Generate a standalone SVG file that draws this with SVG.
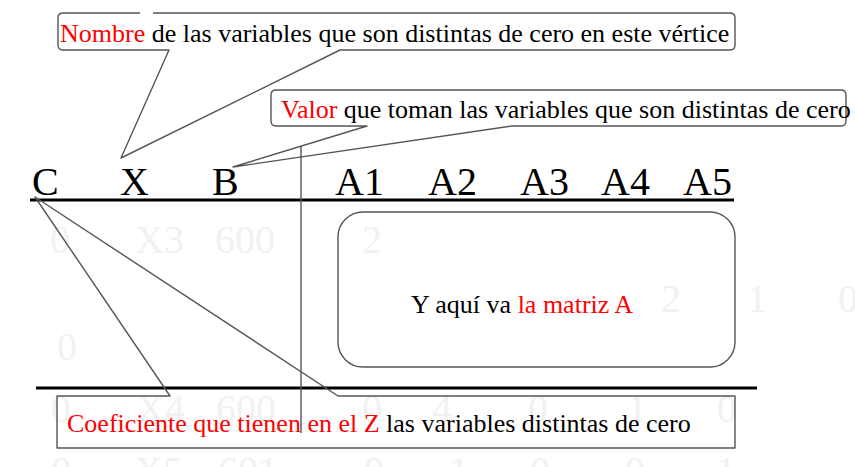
<svg xmlns="http://www.w3.org/2000/svg" width="855" height="467" viewBox="0 0 855 467" font-family="'Liberation Serif', 'Times New Roman', serif">
<style>
  text { font-family: "Liberation Serif", "Times New Roman", serif; }
  .lbl { font-size: 26px; fill: #000; }
  .red { fill: #ff0000; }
  .hdr { font-size: 40px; fill: #000; }
  .ghost { font-size: 40px; fill: #f1f1f1; }
  .callout { fill: none; stroke: #555; stroke-width: 1.4; stroke-linejoin: round; }
  .rule { stroke: #000; stroke-width: 3; }
  .vrule { stroke: #555; stroke-width: 1.4; }
</style>
<rect width="855" height="467" fill="#fff"/>

<g id="ghost-values">
  <text class="ghost" x="50" y="253">0</text>
  <text class="ghost" x="135" y="253">X3</text>
  <text class="ghost" x="215" y="253">600</text>
  <text class="ghost" x="362" y="253">2</text>
  <text class="ghost" x="661" y="312">2</text>
  <text class="ghost" x="747" y="312">1</text>
  <text class="ghost" x="838" y="312">0</text>
  <text class="ghost" x="57" y="360">0</text>
  <text class="ghost" x="51" y="422">0</text>
  <text class="ghost" x="136" y="422">X4</text>
  <text class="ghost" x="216" y="422">600</text>
  <text class="ghost" x="362" y="422">0</text>
  <text class="ghost" x="432" y="422">4</text>
  <text class="ghost" x="528" y="422">0</text>
  <text class="ghost" x="627" y="422">1</text>
  <text class="ghost" x="717" y="422">0</text>
  <text class="ghost" x="51" y="484">0</text>
  <text class="ghost" x="134" y="484">X5</text>
  <text class="ghost" x="218" y="484">601</text>
  <text class="ghost" x="364" y="484">0</text>
  <text class="ghost" x="449" y="484">1</text>
  <text class="ghost" x="530" y="484">0</text>
  <text class="ghost" x="625" y="484">0</text>
  <text class="ghost" x="716" y="484">1</text>
</g>

<g id="connectors">
  <line class="rule" x1="30" y1="200" x2="734" y2="200"/>
  <line class="rule" x1="36" y1="388" x2="757" y2="388"/>
  <line class="vrule" x1="301" y1="146" x2="301" y2="433"/>
</g>

<g id="header">
  <text class="hdr" x="32" y="195">C</text>
  <text class="hdr" x="120" y="195">X</text>
  <text class="hdr" x="212" y="195">B</text>
  <text class="hdr" x="335" y="195">A1</text>
  <text class="hdr" x="428" y="195">A2</text>
  <text class="hdr" x="520" y="195">A3</text>
  <text class="hdr" x="601" y="195">A4</text>
  <text class="hdr" x="683" y="195">A5</text>
</g>

<g id="callout-nombre">
  <path class="callout" d="M140,13 H63 Q58,13 58,18 V45 Q58,50 63,50 H169 L121,158 L340,50 H730 Q735,50 735,45 V18 Q735,13 730,13 H153"/>
  <text class="lbl" x="60" y="42"><tspan class="red">Nombre</tspan> de las variables que son distintas de cero en este vértice</text>
</g>

<g id="callout-valor">
  <path class="callout" d="M367,126 H276 Q271,126 271,121 V95 Q271,90 276,90 H841 Q846,90 846,95 V121 Q846,126 841,126 H512 L233,167 Z"/>
  <text class="lbl" x="281" y="118"><tspan class="red">Valor</tspan> que toman las variables que son distintas de cero</text>
</g>

<g id="matriz">
  <rect class="callout" x="338" y="212" width="397" height="155" rx="25" ry="25"/>
  <text class="lbl" x="411" y="313">Y aquí va <tspan class="red">la matriz A</tspan></text>
</g>

<g id="callout-coeficiente">
  <path class="callout" d="M170,396 H57 V448 H735 V396 H338 L35,197 Z"/>
  <text class="lbl" x="67" y="432"><tspan class="red">Coeficiente que tienen en el Z</tspan> las variables distintas de cero</text>
</g>
</svg>
